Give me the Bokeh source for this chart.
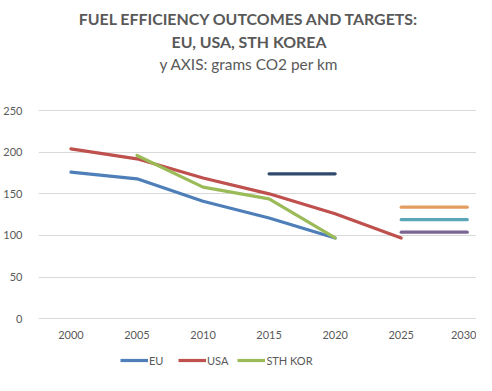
from bokeh.plotting import figure
from bokeh.layouts import column
from bokeh.models import Label, Legend, LegendItem, FixedTicker, Range1d
from bokeh.embed import file_html
from bokeh.resources import INLINE

# ---- data ----
years_eu = [2000, 2005, 2010, 2015, 2020]
eu = [176, 168, 141, 121, 97]
years_usa = [2000, 2005, 2010, 2015, 2020, 2025]
usa = [204, 192, 169, 150, 126, 97]
years_kor = [2005, 2010, 2015, 2020]
kor = [196, 158, 144, 97]

target_navy_years = [2015, 2020]
target_navy = [174, 174]
target_years = [2025, 2030]
target_orange = [134, 134]
target_teal = [119, 119]
target_purple = [104, 104]

x_ticks = [2000, 2005, 2010, 2015, 2020, 2025, 2030]
y_ticks = [0, 50, 100, 150, 200, 250]

series_names = ["EU", "USA", "STH KOR"]

title_1 = "FUEL EFFICIENCY OUTCOMES AND TARGETS:"
title_2 = "EU, USA, STH KOREA"
title_3 = "y AXIS: grams CO2 per km"

# ---- styles ----
C_EU = "#4F7FB8"
C_USA = "#BE504D"
C_KOR = "#9BBB59"
C_NAVY = "#2F4A6C"
C_ORANGE = "#E39D61"
C_TEAL = "#5AA5B8"
C_PURPLE = "#7A6593"
TXT = "#595959"
FONT = "Lato"

W = 476
H_A = 345
H_B = 30
MB = 22
FRAME_BOTTOM = H_A - MB      # figure px
PX_PER_UNIT = 208.3 / 250    # vertical scale
Y0_PX = 318.3                # figure px of value 0
y_end = 250 + (Y0_PX - 208.3) / PX_PER_UNIT
y_start = -(FRAME_BOTTOM - Y0_PX) / PX_PER_UNIT

p = figure(width=W, height=H_A, output_backend="svg", toolbar_location=None,
           x_range=Range1d(1997.545, 2030.70), y_range=Range1d(y_start, y_end),
           min_border_left=28, min_border_right=0, min_border_top=0,
           min_border_bottom=MB)
p.outline_line_color = None
p.background_fill_color = "white"
p.border_fill_color = "white"

p.xgrid.grid_line_color = None
p.ygrid.grid_line_color = "#D9D9D9"
p.ygrid.grid_line_width = 1

p.xaxis.ticker = FixedTicker(ticks=x_ticks)
p.yaxis.ticker = FixedTicker(ticks=y_ticks)
for ax in (p.xaxis, p.yaxis):
    ax.axis_line_color = None
    ax.major_tick_line_color = None
    ax.minor_tick_line_color = None
    ax.major_label_text_color = TXT
    ax.major_label_text_font = FONT
    ax.major_label_text_font_size = "11px"
p.xaxis.major_label_standoff = 1
p.yaxis.major_label_standoff = 10

lw = 3.2
line_kw = dict(line_width=lw, line_cap="round", line_join="round")
p.line(years_eu, eu, line_color=C_EU, **line_kw)
p.line(years_usa, usa, line_color=C_USA, **line_kw)
p.line(years_kor, kor, line_color=C_KOR, **line_kw)
p.line(target_navy_years, target_navy, line_color=C_NAVY, **line_kw)
p.line(target_years, target_orange, line_color=C_ORANGE, **line_kw)
p.line(target_years, target_teal, line_color=C_TEAL, **line_kw)
p.line(target_years, target_purple, line_color=C_PURPLE, **line_kw)

cx = 210.5
def title_label(text, y, size, bold):
    return Label(x=cx, y=y, x_units="screen", y_units="screen",
                 text=text, text_align="center", text_baseline="alphabetic",
                 text_font=FONT, text_font_style="bold" if bold else "normal",
                 text_font_size=size, text_color=TXT)

p.add_layout(title_label(title_1, FRAME_BOTTOM - 18, "15.9px", True))
p.add_layout(title_label(title_2, FRAME_BOTTOM - 40.7, "15.9px", True))
p.add_layout(title_label(title_3, FRAME_BOTTOM - 63.3, "15.4px", False))

# ---- legend strip below the chart ----
q = figure(width=W, height=H_B, output_backend="svg", toolbar_location=None,
           x_range=Range1d(0, 1), y_range=Range1d(0, 1),
           x_axis_location=None, y_axis_location=None,
           min_border=0)
q.outline_line_color = None
q.xgrid.grid_line_color = None
q.ygrid.grid_line_color = None
q.background_fill_color = "white"
q.border_fill_color = "white"
items = []
for name, xs, ys, col in zip(series_names, [years_eu, years_usa, years_kor],
                             [eu, usa, kor], [C_EU, C_USA, C_KOR]):
    # same series, outside this strip's visible range: only the legend key shows
    r = q.line(xs, ys, line_color=col, line_width=lw)
    items.append(LegendItem(label=name, renderers=[r]))

legend = Legend(items=items, orientation="horizontal", location=(82, 8),
                padding=0, margin=0, spacing=9, label_standoff=1,
                glyph_width=28, glyph_height=14, label_height=14,
                label_text_font=FONT, label_text_font_size="11px",
                label_text_color=TXT, border_line_color=None,
                background_fill_alpha=0)
q.add_layout(legend, "center")

layout = column(p, q, spacing=0)
open("out.html", "w").write(file_html(layout, INLINE))
